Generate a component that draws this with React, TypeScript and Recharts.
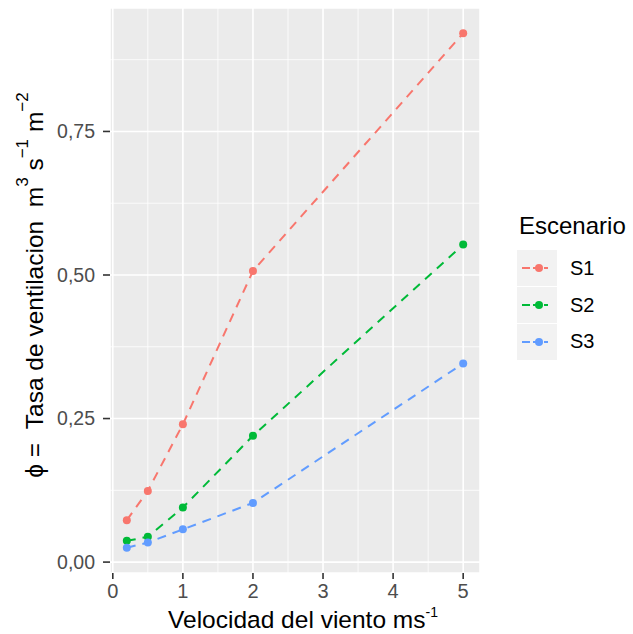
import { LineChart, Line, XAxis, YAxis, CartesianGrid, Legend } from "recharts";

const windSpeed = [0.2, 0.5, 1, 2, 5];
const s1Values = [0.073, 0.124, 0.24, 0.507, 0.921];
const s2Values = [0.037, 0.044, 0.095, 0.22, 0.553];
const s3Values = [0.025, 0.034, 0.057, 0.103, 0.346];

const seriesNames = ["S1", "S2", "S3"];
const seriesColors = ["#F8766D", "#00BA38", "#619CFF"];

const xTicks = [0, 1, 2, 3, 4, 5];
const xMinor = [0.5, 1.5, 2.5, 3.5, 4.5];
const yTicks = [0, 0.25, 0.5, 0.75];
const yMinor = [0.125, 0.375, 0.625, 0.875];

const data = windSpeed.map((x, i) => ({
  x,
  S1: s1Values[i],
  S2: s2Values[i],
  S3: s3Values[i],
}));

const FONT = "'Liberation Sans', Arial, sans-serif";

function LegendBox({ payload }: any) {
  const items = payload && payload.length ? payload : seriesNames.map((n, i) => ({ value: n, color: seriesColors[i] }));
  return (
    <div style={{ fontFamily: FONT, color: "#000" }}>
      <div style={{ fontSize: 24, lineHeight: "28px", height: 38, marginLeft: 2 }}>Escenario</div>
      {items.map((it: any) => (
        <div key={it.value} style={{ display: "flex", alignItems: "center", height: 36.7 }}>
          <svg width={40} height={36} style={{ background: "#F2F2F2", display: "block" }}>
            <line x1={5} x2={31} y1={18} y2={18} stroke={it.color} strokeWidth={2} strokeDasharray="8 3" />
            <circle cx={22} cy={18} r={4} fill={it.color} />
          </svg>
          <span style={{ fontSize: 20, marginLeft: 13 }}>{it.value}</span>
        </div>
      ))}
    </div>
  );
}

export default function App() {
  return (
    <div style={{ position: "absolute", left: 0, top: 0, width: 633, height: 634, background: "#fff" }}>
      <LineChart width={633} height={634} data={data} margin={{ top: 8, right: 153, bottom: 0, left: 0 }}>
        <CartesianGrid fill="#EBEBEB" stroke="#FFFFFF" strokeWidth={0.8} horizontalValues={yMinor} verticalValues={xMinor} />
        <CartesianGrid stroke="#FFFFFF" strokeWidth={1.6} />
        <XAxis
          type="number"
          dataKey="x"
          domain={[-0.04, 5.24]}
          ticks={xTicks}
          allowDataOverflow
          height={61}
          axisLine={false}
          tickSize={6}
          tickMargin={5}
          tickLine={{ stroke: "#333333", strokeWidth: 1.6 }}
          tick={{ fill: "#4D4D4D", fontSize: 20, fontFamily: FONT }}
        />
        <YAxis
          type="number"
          domain={[-0.019, 0.965]}
          ticks={yTicks}
          allowDataOverflow
          width={110}
          axisLine={false}
          tickSize={7}
          tickMargin={8}
          tickLine={{ stroke: "#333333", strokeWidth: 1.6 }}
          tick={{ fill: "#4D4D4D", fontSize: 19.5, fontFamily: FONT }}
          tickFormatter={(v: number) => v.toFixed(2).replace(".", ",")}
        />
        <Legend
          layout="vertical"
          align="center"
          verticalAlign="middle"
          wrapperStyle={{ left: 517, top: 212, width: 116 }}
          content={(props: any) => <LegendBox {...props} />}
        />
        {seriesNames.map((name, i) => (
          <Line
            key={name}
            type="linear"
            dataKey={name}
            name={name}
            stroke={seriesColors[i]}
            strokeWidth={2}
            strokeDasharray="9 7"
            dot={{ r: 4, fill: seriesColors[i], stroke: "none" }}
            activeDot={false}
            isAnimationActive={false}
          />
        ))}
      </LineChart>
      <svg width={633} height={634} style={{ position: "absolute", left: 0, top: 0, pointerEvents: "none" }}>
        <text x={303} y={628} textAnchor="middle" fontFamily={FONT} fontSize={24.5} fill="#000">
          Velocidad del viento ms
          <tspan fontSize={14} dy={-11}>-1</tspan>
        </text>
        <text
          x={43}
          y={285}
          transform="rotate(-90 43 285)"
          textAnchor="middle"
          fontFamily={FONT}
          fontSize={24.5}
          fill="#000"
        >
          {"ϕ\u00A0= \u00A0Tasa de ventilacion\u00A0\u00A0m"}
          <tspan fontSize={17} dy={-15}>3</tspan>
          <tspan dy={15}>{"\u00A0s"}</tspan>
          <tspan fontSize={17} dy={-15}>−1</tspan>
          <tspan dy={15}>{"\u00A0m"}</tspan>
          <tspan fontSize={17} dy={-15}>−2</tspan>
        </text>
      </svg>
    </div>
  );
}
